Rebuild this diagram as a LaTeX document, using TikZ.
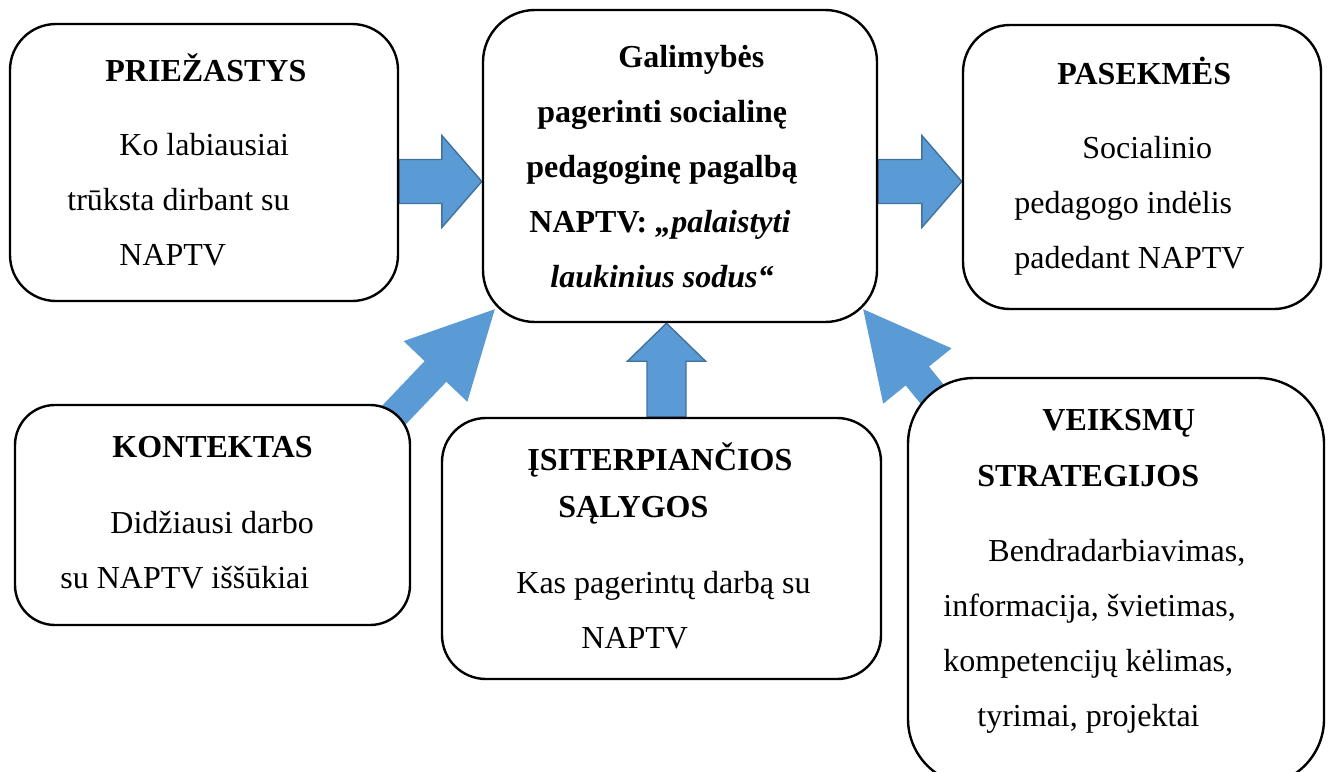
\documentclass[tikz,border=0pt]{standalone}
\usepackage{fontspec}
\setmainfont{Liberation Serif}
\usepackage{tikz}
\usetikzlibrary{positioning, calc, backgrounds}

\definecolor{arrowblue}{HTML}{5B9BD5}
\definecolor{arrowedge}{HTML}{41719C}
\newcommand{\boxfont}{\fontsize{16}{27.5}\selectfont}

\tikzstyle{frame} = [rectangle, draw=black, line width=1.2pt, fill=white, inner sep=0pt]
\tikzstyle{title} = [anchor=base west, inner sep=0pt, align=left, font=\boxfont\bfseries]
\tikzstyle{body} = [anchor=base west, inner sep=0pt, align=left, font=\boxfont]
\tikzstyle{bigarrow} = [fill=arrowblue]

% block arrow: [opts]{tail}{tip}{shaft half width}{head half width}{head length}
\newcommand{\blockarrow}[6][]{%
  \coordinate (ahead) at ($(#3)!#6!(#2)$);
  \fill[bigarrow, #1] ($(#2)!#4!90:(#3)$) -- ($(ahead)!#4!90:(#3)$)
    -- ($(ahead)!#5!90:(#3)$) -- (#3) -- ($(ahead)!#5!-90:(#3)$)
    -- ($(ahead)!#4!-90:(#3)$) -- ($(#2)!#4!-90:(#3)$) -- cycle;}

\begin{document}
\begin{tikzpicture}[x=0.5pt, y=-0.5pt]
    \clip (0,0) rectangle (1331,771);

    % Causes
    \node[frame, rounded corners=23pt, minimum width=194pt, minimum height=138.5pt] (prz) at (204,162.5) {};
    \node[title] (prz-t) at (105,81) {PRIEŽASTYS};
    \node[body] (prz-b) at (67,265) {\hspace*{26pt}Ko labiausiai\\trūksta dirbant su\\\hspace*{26pt}NAPTV};

    % Central phenomenon
    \node[frame, rounded corners=26pt, minimum width=197pt, minimum height=156pt] (gal) at (680,166) {};
    \node[title] (gal-t) at (526,287) {\hspace*{46pt}Galimybės\\\hspace*{5.5pt}pagerinti socialinę\\pedagoginę pagalbą\\\hspace*{1.5pt}NAPTV: \textit{„palaistyti}\\\hspace*{12pt}\textit{laukinius sodus“}};

    % Consequences
    \node[frame, rounded corners=23.5pt, minimum width=179pt, minimum height=142pt] (pas) at (1142,167) {};
    \node[title] (pas-t) at (1057,84) {PASEKMĖS};
    \node[body] (pas-b) at (1014,268) {\hspace*{34pt}Socialinio\\pedagogo indėlis\\padedant NAPTV};

    % Context
    \node[frame, rounded corners=20pt, minimum width=197.5pt, minimum height=110pt] (kon) at (212.5,515) {};
    \node[title] (kon-t) at (112,457) {KONTEKTAS};
    \node[body] (kon-b) at (60,588) {\hspace*{25pt}Didžiausi darbo\\su NAPTV iššūkiai};

    % Intervening conditions
    \node[frame, rounded corners=22pt, minimum width=219.5pt, minimum height=130.5pt] (isi) at (661.5,548.5) {};
    \node[title] (isi-t) at (527,517) {ĮSITERPIANČIOS\\[-4pt]\hspace*{15.5pt}SĄLYGOS};
    \node[body] (isi-b) at (516,648) {Kas pagerintų darbą su\\\hspace*{32.5pt}NAPTV};

    % Strategies
    \node[frame, rounded corners=33pt, minimum width=208pt, minimum height=203.5pt] (vei) at (1116,581.5) {};
    \node[title] (vei-t) at (977,486) {\hspace*{32.5pt}VEIKSMŲ\\[0.5pt]STRATEGIJOS};
    \node[body] (vei-b) at (943,726) {\hspace*{22.5pt}Bendradarbiavimas,\\informacija, švietimas,\\kompetencijų kėlimas,\\\hspace*{17pt}tyrimai, projektai};

    % Arrow ends
    \coordinate (t1) at ([yshift=-9.5pt]prz.east);
    \coordinate (h1) at (gal.west |- t1);
    \coordinate (t2) at (gal.east |- t1);
    \coordinate (h2) at (pas.west |- t1);
    \coordinate (t3) at ([xshift=2.5pt]isi.north);
    \coordinate (h3) at (gal.south -| t3);
    \coordinate (t4) at ([xshift=-14pt,yshift=-11.25pt]kon.north east);
    \coordinate (h4) at ([xshift=6.5pt,yshift=7pt]gal.south west);
    \coordinate (t5) at ([xshift=27.5pt,yshift=-27pt]vei.north west);
    \coordinate (h5) at ([xshift=-7.5pt,yshift=7pt]gal.south east);

    % Connections
    \begin{scope}[on background layer]
        \blockarrow[draw=arrowedge, line width=0.7pt]{t1}{h1}{11pt}{23pt}{20pt}
        \blockarrow[draw=arrowedge, line width=0.7pt]{t2}{h2}{11pt}{23pt}{20pt}
        \blockarrow[draw=arrowedge, line width=0.7pt]{t3}{h3}{9.75pt}{19.5pt}{19pt}
        \blockarrow{t4}{h4}{7.5pt}{22pt}{43pt}
        \blockarrow{t5}{h5}{7.5pt}{22pt}{43pt}
    \end{scope}
\end{tikzpicture}
\end{document}
